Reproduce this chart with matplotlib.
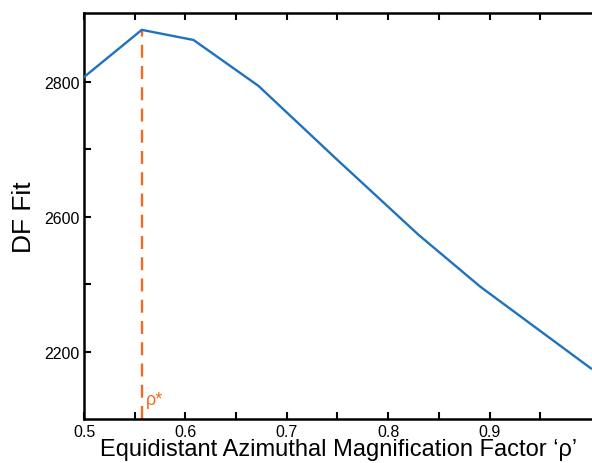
import matplotlib
matplotlib.use("Agg")
import matplotlib.pyplot as plt

plt.rcParams['font.family'] = ['Liberation Sans', 'DejaVu Sans']

rho = [0.5, 0.557, 0.608, 0.672, 0.75, 0.83, 0.891, 1.0]
df_fit = [2807, 2877, 2862, 2794, 2684, 2573, 2496, 2375]
rho_star = 0.557
rho_star_fit = 2877

xticks = [0.5, 0.55, 0.6, 0.65, 0.7, 0.75, 0.8, 0.85, 0.9, 0.95]
xticklabels = ['0.5', '', '0.6', '', '0.7', '', '0.8', '', '0.9', '']
yticks = [2400, 2500, 2600, 2700, 2800]
yticklabels = ['2200', '', '2600', '', '2800']

fig = plt.figure(figsize=(5.92, 4.64), dpi=100)
ax = fig.add_axes([84/592, 44/464, 509/592, 406/464])

ax.plot(rho, df_fit, color='#1f72be', lw=1.7, zorder=3)
ax.plot([rho_star, rho_star], [2300, rho_star_fit], color='#f26b21', lw=1.7,
        dashes=(5.5, 3.5), zorder=2)
ax.text(rho_star + 0.004, 2316, 'ρ*', color='#f26b21', fontsize=13,
        ha='left', va='bottom')

ax.set_xlim(0.5, 1.002)
ax.set_ylim(2300, 2902)
ax.set_xticks(xticks)
ax.set_xticklabels(xticklabels)
ax.set_yticks(yticks)
ax.set_yticklabels(yticklabels)
ax.tick_params(direction='in', length=5, width=1.5, top=True, right=False,
               labelsize=11.5, pad=3)
ax.tick_params(axis='x', pad=3.5)
for s in ax.spines.values():
    s.set_linewidth(1.8)

ax.set_xlabel('Equidistant Azimuthal Magnification Factor ‘ρ’', fontsize=17, labelpad=-0.5)
ax.set_ylabel('DF Fit', fontsize=19, labelpad=6)

fig.savefig('out.png', dpi=100)
